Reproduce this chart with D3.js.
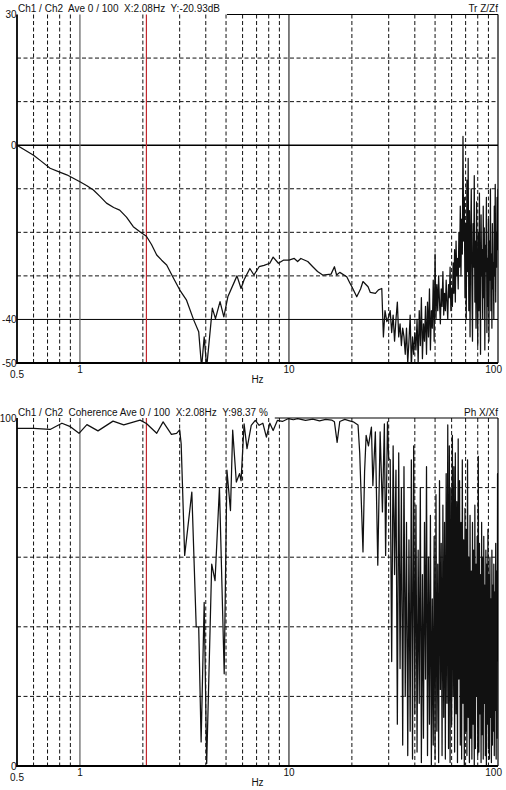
<!DOCTYPE html>
<html>
<head>
<meta charset="utf-8">
<script src="https://cdn.jsdelivr.net/npm/d3@7/dist/d3.min.js"></script>
<style>
  body { margin: 0; background: #fff; }
  svg { display: block; font-family: "Liberation Sans", Arial, Helvetica, sans-serif; }
</style>
</head>
<body>
<svg id="chart" width="506" height="790"></svg>
<script>
// header texts
const tfTitle = "Ch1 / Ch2  Ave 0 / 100  X:2.08Hz  Y:-20.93dB";
const tfTag = "Tr Z/Zf";
const cohTitle = "Ch1 / Ch2  Coherence Ave 0 / 100  X:2.08Hz  Y:98.37 %";
const cohTag = "Ph X/Xf";
const cursorHz = 2.08;

// axis labels
const xTickLabels = [0.5, 1, 10, 100];
const tfTickLabels = [30, 0, -40, -50];
const cohTickLabels = [100, 0];
const xMinorGrid = [0.6, 0.7, 0.8, 0.9, 2, 3, 4, 5, 6, 7, 8, 9, 20, 30, 40, 50, 60, 70, 80, 90];
const tfDashedGrid = [20, 10, -10, -20, -30];
const tfSolidGrid = [0, -40];
const cohDashedGrid = [80, 60, 40, 20];

// transfer function, smooth part (Hz / dB)
const tfHz = [0.5, 0.55, 0.6, 0.65, 0.72, 0.8, 0.865, 0.93, 1.0, 1.08, 1.16, 1.25, 1.34, 1.45,
  1.55, 1.67, 1.8, 1.95, 2.08, 2.2, 2.33, 2.46, 2.6, 2.8, 3.0, 3.23, 3.5, 3.7, 3.82, 3.93,
  4.04, 4.3, 4.45, 4.68, 4.88, 5.1, 5.64, 5.9, 6.1, 6.5, 6.8, 7.2, 7.6, 8.1, 8.4, 8.9, 9.4,
  10.0, 10.6, 11.0, 11.4, 12.3, 13.0, 13.7, 14.5, 15.9, 16.5, 16.9, 17.5, 18.9, 19.5, 20.0,
  21.1, 22.0, 22.6, 23.9, 24.5, 25.9, 26.8, 27.8, 28.3, 28.8, 29.4, 30.0];
const tfDb = [0, -1.2, -2.3, -3.6, -5.3, -6.2, -6.8, -7.6, -8.4, -9.3, -10.3, -11.8, -13.3, -14.3,
  -14.9, -16.5, -18.7, -20.0, -20.9, -22.8, -25.2, -26.4, -27.5, -30.5, -33.2, -35.5, -40.1, -42.8, -51, -44,
  -51, -37.4, -39.8, -35.9, -39.4, -34.8, -30, -32.9, -30.9, -28.3, -29.8, -27.9, -27.6, -27.1, -25.7, -27.1, -26.4,
  -26.4, -26.0, -26.7, -26.0, -26.7, -27.9, -29.0, -29.8, -29.6, -27.9, -29.8, -29.2, -30.2, -31.5, -32.5,
  -34.8, -33.0, -31.3, -32.5, -33.8, -34.0, -33.2, -32.9, -44, -38, -40.5, -39.4];

// coherence, smooth part (Hz / %)
const cohHz = [0.5, 0.6, 0.72, 0.82, 0.9, 0.99, 1.08, 1.22, 1.44, 1.62, 1.94, 2.08, 2.33, 2.5,
  2.74, 2.9, 3.0, 3.05, 3.17, 3.43, 3.6, 3.7, 3.8, 3.93, 4.04, 4.27, 4.43, 4.65, 4.9, 5.05,
  5.25, 5.38, 5.6, 5.8, 5.9, 6.1, 6.3, 6.6, 6.9, 7.2, 7.5, 7.8, 8.1, 8.4, 8.8, 9.3, 9.9,
  10.5, 11, 12, 13, 14, 15, 16, 16.5, 17, 17.5, 18.5, 19.5, 20.3, 21.4, 21.8, 22.6, 23,
  23.4, 24, 24.8, 25.2, 25.9, 26.6, 27.3, 28, 28.6, 29, 29.6, 30.0];
const cohPct = [97, 97, 96.7, 98.5, 97.5, 95.6, 98.1, 96.3, 99.1, 98, 99.4, 98.4, 95.6, 98.9,
  95.3, 95.6, 96.6, 92.6, 60.5, 78.7, 40, 40, 6.9, 47, 0.7, 58, 53.3, 80, 26.5, 85,
  73.4, 96.5, 81.6, 84, 82, 98.3, 91.2, 97.9, 99.3, 97.9, 98.5, 94.5, 98.5, 96.4, 99.3, 99, 99.8,
  99.5, 99.8, 99.3, 99.7, 99.2, 99.6, 99.4, 98.9, 93, 99, 99.6, 99.2, 98.9, 98, 90, 61.5, 84.5,
  95, 92, 97.4, 80.6, 96, 57.7, 96, 73, 98.3, 60.5, 98.9, 88.3];

// noisy upper band, shared FFT bins (Hz)
const noiseHz = [
  30.5, 31, 31.5, 32, 32.5, 33, 33.5, 34, 34.5, 35,
  35.5, 36, 36.5, 37, 37.5, 38, 38.5, 39, 39.5, 40,
  40.5, 41, 41.5, 42, 42.5, 43, 43.5, 44, 44.5, 45,
  45.5, 46, 46.5, 47, 47.5, 48, 48.5, 49, 49.5, 50,
  50.5, 51, 51.5, 52, 52.5, 53, 53.5, 54, 54.5, 55,
  55.5, 56, 56.5, 57, 57.5, 58, 58.5, 59, 59.5, 60,
  60.5, 61, 61.5, 62, 62.5, 63, 63.5, 64, 64.5, 65,
  65.5, 66, 66.5, 67, 67.5, 68, 68.5, 69, 69.5, 70,
  70.5, 71, 71.5, 72, 72.5, 73, 73.5, 74, 74.5, 75,
  75.5, 76, 76.5, 77, 77.5, 78, 78.5, 79, 79.5, 80,
  80.5, 81, 81.5, 82, 82.5, 83, 83.5, 84, 84.5, 85,
  85.5, 86, 86.5, 87, 87.5, 88, 88.5, 89, 89.5, 90,
  90.5, 91, 91.5, 92, 92.5, 93, 93.5, 94, 94.5, 95,
  95.5, 96, 96.5, 97, 97.5, 98, 98.5, 99, 99.5, 100];
const tfNoiseDb = [
  -38, -43, -39, -45, -40, -36, -44, -41, -46, -42,
  -44, -48, -42, -50, -45, -39, -51, -44, -48, -43,
  -47, -40, -50, -38, -46, -35, -49, -41, -45, -37,
  -48, -36, -44, -33, -47, -38, -42, -31, -45, -25,
  -40, -32, -38, -30, -36, -41, -33, -37, -29, -39,
  -34, -38, -31, -36, -40, -32, -35, -28, -38, -33,
  -37, -27, -34, -24, -36, -22, -30, -26, -33, -20,
  -28, -14, -30, -17, -25, 2, -22, -12, -35, -18,
  -40, -8, -29, -3, -38, -15, -44, -20, -10, -32,
  -45, -18, -28, -7, -36, -22, -42, -13, -30, -46,
  -20, -38, -11, -33, -48, -16, -30, -24, -40, -14,
  -35, -19, -47, -23, -29, -12, -43, -26, -37, -17,
  -45, -22, -31, -10, -38, -25, -42, -18, -33, -27,
  -40, -14, -30, -9, -36, -20, -28, -12, -24, -10];
const cohNoisePct = [
  88, 30, 92, 55, 85, 12, 90, 28, 80, 6,
  86, 20, 70, 3, 65, 10, 88, 2, 92, 15,
  75, 4, 62, 18, 80, 1, 55, 8, 70, 25,
  86, 3, 60, 12, 72, 0, 48, 6, 66, 2,
  78, 10, 58, 1, 82, 22, 64, 3, 75, 14,
  70, 2, 84, 18, 98, 5, 92, 1, 80, 12,
  95, 20, 86, 4, 90, 15, 76, 1, 94, 25,
  82, 6, 70, 2, 88, 18, 65, 0, 74, 10,
  68, 3, 88, 14, 60, 1, 72, 8, 56, 2,
  70, 12, 62, 0, 75, 5, 58, 20, 66, 3,
  89, 4, 64, 15, 55, 1, 70, 9, 60, 2,
  66, 18, 52, 3, 62, 0, 58, 12, 68, 5,
  55, 2, 60, 14, 48, 1, 62, 6, 52, 10,
  58, 3, 50, 16, 64, 2, 56, 8, 84, 30];

const plotLeft = 17;
const plotRight = 498;
const svg = d3.select("#chart");

const x = d3.scaleLog().domain([0.5, 100]).range([plotLeft, plotRight]);

const panels = [
  {
    id: "tf", top: 14.5, bottom: 363, domain: [-50, 30],
    hz: tfHz.concat(noiseHz), vals: tfDb.concat(tfNoiseDb),
    title: tfTitle, tag: tfTag, ticks: tfTickLabels,
    dashed: tfDashedGrid, solid: tfSolidGrid,
  },
  {
    id: "coh", top: 418, bottom: 766, domain: [0, 100],
    hz: cohHz.concat(noiseHz), vals: cohPct.concat(cohNoisePct),
    title: cohTitle, tag: cohTag, ticks: cohTickLabels,
    dashed: cohDashedGrid, solid: [],
  },
];

function drawPanel(p) {
  const y = d3.scaleLinear().domain(p.domain).range([p.bottom, p.top]);
  const g = svg.append("g");

  // clip region for the trace
  svg.append("clipPath").attr("id", `clip-${p.id}`)
    .append("rect")
    .attr("x", plotLeft).attr("y", p.top)
    .attr("width", plotRight - plotLeft).attr("height", p.bottom - p.top);

  // dashed grid
  g.selectAll(".vgrid").data(xMinorGrid).enter().append("line")
    .attr("x1", (d) => x(d)).attr("x2", (d) => x(d))
    .attr("y1", p.top).attr("y2", p.bottom)
    .attr("stroke", "#111").attr("stroke-width", 1)
    .attr("stroke-dasharray", "4,2.5");
  g.selectAll(".hgrid").data(p.dashed).enter().append("line")
    .attr("x1", plotLeft).attr("x2", plotRight)
    .attr("y1", (d) => y(d)).attr("y2", (d) => y(d))
    .attr("stroke", "#111").attr("stroke-width", 1)
    .attr("stroke-dasharray", "4,2.5");

  // solid grid
  g.selectAll(".hsolid").data(p.solid).enter().append("line")
    .attr("x1", plotLeft).attr("x2", plotRight)
    .attr("y1", (d) => y(d)).attr("y2", (d) => y(d))
    .attr("stroke", "#000").attr("stroke-width", (d) => (d === 0 ? 1.6 : 1));
  g.append("line")
    .attr("x1", x(1)).attr("x2", x(1)).attr("y1", p.top).attr("y2", p.bottom)
    .attr("stroke", "#6a6a6a").attr("stroke-width", 1.3);
  g.append("line")
    .attr("x1", x(10)).attr("x2", x(10)).attr("y1", p.top).attr("y2", p.bottom)
    .attr("stroke", "#000").attr("stroke-width", 1);

  // cursor
  g.append("line")
    .attr("x1", x(cursorHz)).attr("x2", x(cursorHz)).attr("y1", p.top).attr("y2", p.bottom)
    .attr("stroke", "#c2272d").attr("stroke-width", 1.2);

  // trace
  const line = d3.line().x((d) => x(d[0])).y((d) => y(d[1]));
  g.append("path")
    .datum(d3.zip(p.hz, p.vals))
    .attr("clip-path", `url(#clip-${p.id})`)
    .attr("fill", "none").attr("stroke", "#111").attr("stroke-width", 1.25)
    .attr("stroke-linejoin", "round")
    .attr("d", line);

  // frame
  g.append("line").attr("x1", plotRight).attr("x2", plotRight)
    .attr("y1", p.top).attr("y2", p.bottom).attr("stroke", "#000").attr("stroke-width", 1.2);
  g.append("line").attr("x1", plotLeft).attr("x2", plotLeft)
    .attr("y1", p.top).attr("y2", p.bottom).attr("stroke", "#000").attr("stroke-width", 1.8);
  g.append("line").attr("x1", plotLeft - 1).attr("x2", plotRight)
    .attr("y1", p.bottom).attr("y2", p.bottom).attr("stroke", "#000").attr("stroke-width", 1.8);

  // header
  const title = g.append("text")
    .attr("x", plotLeft + 1).attr("y", p.top - 2.5)
    .style("white-space", "pre")
    .attr("font-size", 10).attr("fill", "#111")
    .text(p.title);
  const titleEnd = plotLeft + 1 + title.node().getComputedTextLength() + 7;
  g.append("line").attr("x1", titleEnd).attr("x2", plotRight)
    .attr("y1", p.top).attr("y2", p.top).attr("stroke", "#000").attr("stroke-width", 1.2);
  g.append("text")
    .attr("x", plotRight).attr("y", p.top - 2.5)
    .attr("text-anchor", "end").attr("font-size", 10).attr("fill", "#111")
    .text(p.tag);

  // y labels
  g.selectAll(".ylab").data(p.ticks).enter().append("text")
    .attr("x", plotLeft - 0.5).attr("y", (d) => y(d))
    .attr("dy", "0.36em").attr("text-anchor", "end")
    .attr("font-size", 10).attr("fill", "#111")
    .text((d) => d);

  // x labels
  g.selectAll(".xlab").data(xTickLabels).enter().append("text")
    .attr("x", (d) => (d === 100 ? plotRight + 4 : x(d)))
    .attr("y", (d) => p.bottom + (d === 0.5 ? 14.5 : 9.8))
    .attr("text-anchor", (d) => (d === 100 ? "end" : "middle"))
    .attr("font-size", 10).attr("fill", "#111")
    .text((d) => d);
  g.append("text")
    .attr("x", (plotLeft + plotRight) / 2).attr("y", p.bottom + 19.8)
    .attr("text-anchor", "middle").attr("font-size", 10).attr("fill", "#111")
    .text("Hz");
}

panels.forEach(drawPanel);
</script>
</body>
</html>
